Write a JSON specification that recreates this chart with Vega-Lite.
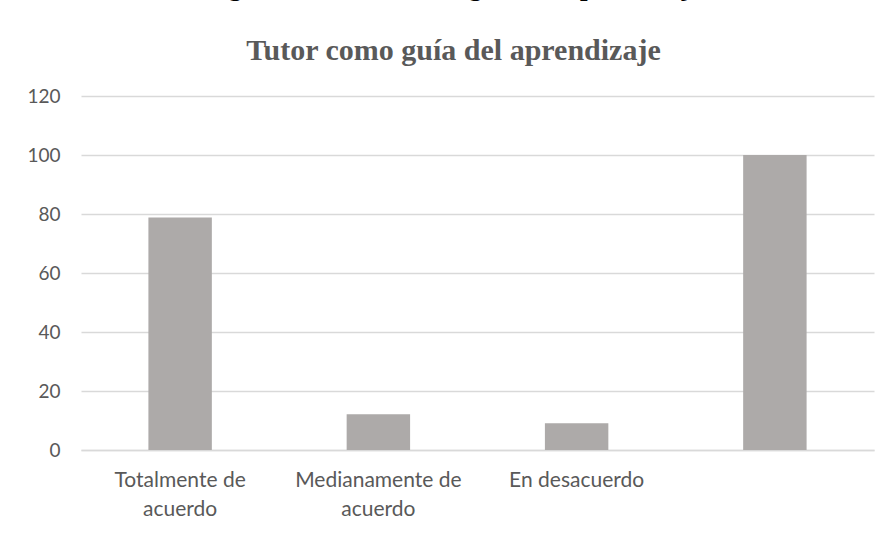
{
  "$schema": "https://vega.github.io/schema/vega-lite/v6.json",
  "autosize": {"type": "none"},
  "padding": {"left": 81, "top": 96, "right": 14, "bottom": 84},
  "width": 793,
  "height": 354,
  "background": "white",
  "title": {
    "text": "Figura 10. Tutor como guía del aprendizaje",
    "subtitle": "Tutor como guía del aprendizaje",
    "anchor": "middle",
    "frame": "group",
    "dx": -24,
    "offset": 20,
    "font": "Liberation Serif",
    "fontSize": 27,
    "fontWeight": "bold",
    "color": "black",
    "subtitleFont": "Liberation Serif",
    "subtitleFontSize": 30,
    "subtitleFontWeight": "bold",
    "subtitleColor": "#595959",
    "subtitlePadding": 35
  },
  "data": {
    "values": [
      {"categoria": "Totalmente de acuerdo", "valor": 78.8},
      {"categoria": "Medianamente de acuerdo", "valor": 12.1},
      {"categoria": "En desacuerdo", "valor": 9.1},
      {"categoria": "Total", "valor": 100}
    ]
  },
  "mark": {"type": "bar", "color": "#ADAAA9"},
  "encoding": {
    "x": {
      "field": "categoria",
      "type": "nominal",
      "sort": null,
      "scale": {"paddingInner": 0.68, "paddingOuter": 0.34},
      "axis": {
        "title": null,
        "labelAngle": 0,
        "ticks": false,
        "domainColor": "#D9D9D9",
        "domainWidth": 1.5,
        "labelFont": "Lato",
        "labelFontSize": 21,
        "labelColor": "#595959",
        "labelPadding": 19,
        "labelLineHeight": 29,
        "labelBaseline": "top",
        "labelExpr": "datum.value == 'Totalmente de acuerdo' ? ['Totalmente de', 'acuerdo'] : datum.value == 'Medianamente de acuerdo' ? ['Medianamente de', 'acuerdo'] : datum.value == 'Total' ? '' : datum.value"
      }
    },
    "y": {
      "field": "valor",
      "type": "quantitative",
      "scale": {"domain": [0, 120], "nice": false},
      "axis": {
        "title": null,
        "values": [0, 20, 40, 60, 80, 100, 120],
        "domain": false,
        "ticks": false,
        "gridColor": "#D9D9D9",
        "gridWidth": 1.5,
        "labelFont": "Lato",
        "labelFontSize": 19,
        "labelColor": "#595959",
        "labelPadding": 21
      }
    }
  },
  "config": {"view": {"stroke": null}}
}
